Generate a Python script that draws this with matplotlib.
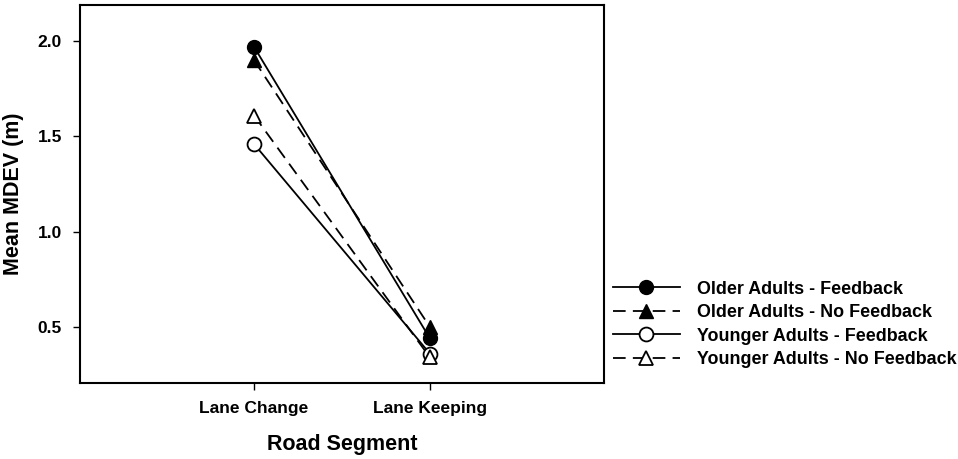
import matplotlib.pyplot as plt

plt.rcParams['font.family'] = ['Liberation Sans', 'DejaVu Sans']
plt.rcParams['font.weight'] = 'bold'

segments = ["Lane Change", "Lane Keeping"]
older_fb = [1.97, 0.44]
older_nofb = [1.90, 0.50]
younger_fb = [1.46, 0.36]
younger_nofb = [1.61, 0.34]

x = [1, 2]

fig = plt.figure(figsize=(9.58, 4.59), dpi=100)
ax = fig.add_axes([80 / 958, 1 - 383 / 459, 524 / 958, 378 / 459])

ax.plot(x, older_fb, color='black', linestyle='-', linewidth=1.3,
        marker='o', markersize=10, markerfacecolor='black',
        label="Older Adults - Feedback")
ax.plot(x, older_nofb, color='black', linestyle=(0, (7, 4)), linewidth=1.3,
        marker='^', markersize=10, markerfacecolor='black',
        label="Older Adults - No Feedback")
ax.plot(x, younger_fb, color='black', linestyle='-', linewidth=1.3,
        marker='o', markersize=10, markerfacecolor='white', markeredgewidth=1.3,
        label="Younger Adults - Feedback")
ax.plot(x, younger_nofb, color='black', linestyle=(0, (7, 4)), linewidth=1.3,
        marker='^', markersize=10, markerfacecolor='white', markeredgewidth=1.3,
        label="Younger Adults - No Feedback")

ax.set_xlim(0.01, 2.99)
ax.set_ylim(0.206, 2.19)
ax.set_xticks(x)
ax.set_xticklabels(segments)
ax.set_yticks([0.5, 1.0, 1.5, 2.0])
ax.set_yticklabels(["0.5", "1.0", "1.5", "2.0"])
ax.tick_params(direction='out', length=5, width=1, labelsize=12.5, pad=8)

for s in ax.spines.values():
    s.set_linewidth(1.5)

ax.set_xlabel("Road Segment", fontsize=15.5, fontweight='bold', labelpad=13)
ax.set_ylabel("Mean MDEV (m)", fontsize=15.5, fontweight='bold', labelpad=10)

ax.legend(loc='center left', bbox_to_anchor=(0.987, 0.155), frameon=False,
          handlelength=3.7, handletextpad=0.95, labelspacing=0.36,
          prop={'weight': 'bold', 'size': 12.9})

fig.savefig("out.png", dpi=100)
